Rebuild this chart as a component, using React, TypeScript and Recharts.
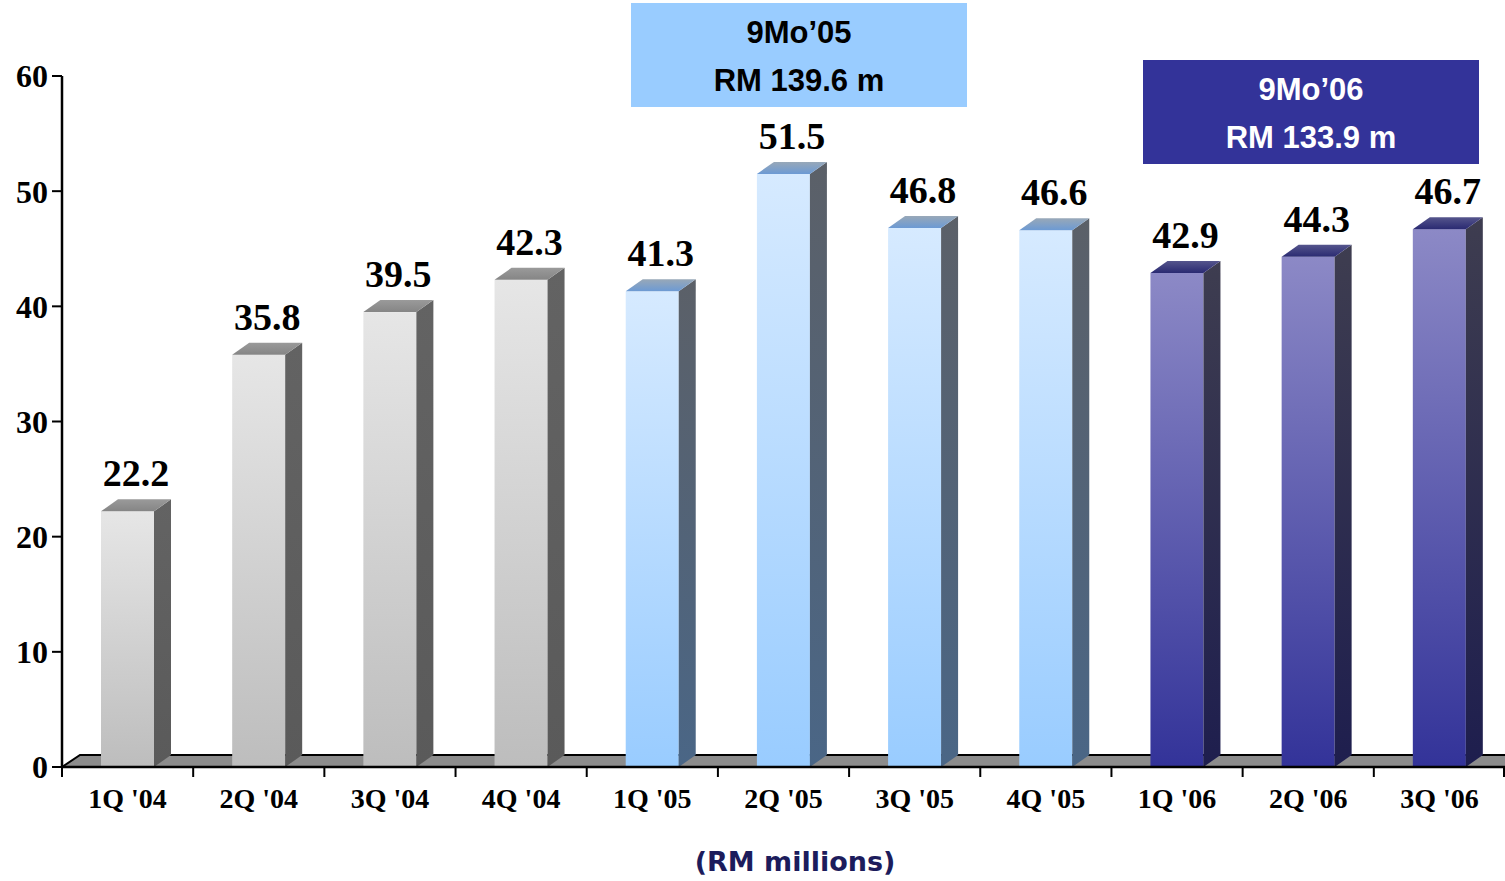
import React from 'react';
import { BarChart, Bar, XAxis, YAxis, LabelList, ReferenceLine } from 'recharts';

// Quarterly figures, RM millions
const quarters = ["1Q '04", "2Q '04", "3Q '04", "4Q '04", "1Q '05", "2Q '05", "3Q '05", "4Q '05", "1Q '06", "2Q '06", "3Q '06"];
const revenue = [22.2, 35.8, 39.5, 42.3, 41.3, 51.5, 46.8, 46.6, 42.9, 44.3, 46.7];
const periods = ['04', '04', '04', '04', '05', '05', '05', '05', '06', '06', '06'];
const yTicks = [0, 10, 20, 30, 40, 50, 60];

// Nine-month totals shown in the two summary boxes
const summary05 = ['9Mo’05', 'RM 139.6 m'];
const summary06 = ['9Mo’06', 'RM 133.9 m'];

const data = quarters.map((q, i) => ({ quarter: q, value: revenue[i], period: periods[i] }));

const W = 1505;
const H = 881;
const DX = 17; // depth offset of the 3D faces
const DY = 12;
const SERIF = '"Liberation Serif", "Times New Roman", Times, serif';
const SANS = '"Liberation Sans", Arial, Helvetica, sans-serif';

const Bar3D = (props: any) => {
  const { x, y, width, height, payload } = props;
  if (width == null || height == null) return null;
  const p = payload?.period ?? '04';
  const r = x + width;
  const b = y + height;
  return (
    <g>
      <rect x={x} y={y} width={width} height={height} fill={`url(#front-${p})`} />
      <polygon
        points={`${r},${y} ${r + DX},${y - DY} ${r + DX},${b - DY} ${r},${b}`}
        fill={`url(#side-${p})`}
      />
      <polygon
        points={`${x},${y} ${x + DX},${y - DY} ${r + DX},${y - DY} ${r},${y}`}
        fill={`url(#top-${p})`}
      />
    </g>
  );
};

const ValueLabel = (props: any) => {
  const { x, y, width, value } = props;
  return (
    <text
      x={x + (width + DX) / 2}
      y={y - 25}
      textAnchor="middle"
      fontFamily={SERIF}
      fontWeight="bold"
      fontSize={38}
      fill="#000"
    >
      {Number(value).toFixed(1)}
    </text>
  );
};

const QuarterTick = (props: any) => {
  const { x, y, payload, index, visibleTicksCount } = props;
  const half = payload?.offset ?? (W - 62) / quarters.length / 2;
  const last = index === (visibleTicksCount ?? quarters.length) - 1;
  return (
    <g>
      <line x1={x - half} y1={y} x2={x - half} y2={y + 10} stroke="#000" strokeWidth={2} />
      {last && <line x1={x + half - 1} y1={y} x2={x + half - 1} y2={y + 10} stroke="#000" strokeWidth={2} />}
      <text
        x={x}
        y={y + 41}
        textAnchor="middle"
        fontFamily={SERIF}
        fontWeight="bold"
        fontSize={28}
        fill="#000"
      >
        {payload.value}
      </text>
    </g>
  );
};

const Floor = (props: any) => {
  const { x1, y1, x2 } = props;
  const left = Math.min(x1, x2);
  const right = Math.max(x1, x2);
  return (
    <g>
      <polygon
        points={`${left},${y1} ${left + 18},${y1 - DY} ${right},${y1 - DY} ${right},${y1}`}
        fill="#8c8c8c"
      />
      <polyline
        points={`${left},${y1} ${left + 18},${y1 - DY} ${right},${y1 - DY}`}
        fill="none"
        stroke="#000"
        strokeWidth={2}
      />
    </g>
  );
};

const SummaryBox = ({ lines, left, top, bg, color }: any) => (
  <div
    style={{
      position: 'absolute',
      left,
      top,
      width: 336,
      height: 104,
      background: bg,
      color,
      fontFamily: SANS,
      fontWeight: 'bold',
      fontSize: 31,
      lineHeight: '48px',
      textAlign: 'center',
      paddingTop: 6,
      boxSizing: 'border-box',
    }}
  >
    {lines.map((l: string) => (
      <div key={l}>{l}</div>
    ))}
  </div>
);

export default function App() {
  return (
    <div style={{ position: 'absolute', left: 0, top: 0, width: W, height: H, background: '#fff' }}>
      <BarChart width={W} height={H} data={data} margin={{ top: 76, right: 0, bottom: 0, left: 0 }}>
        <defs>
          <linearGradient id="front-04" x1="0" y1="0" x2="0" y2="1">
            <stop offset="0%" stopColor="#e6e6e6" />
            <stop offset="100%" stopColor="#bdbdbd" />
          </linearGradient>
          <linearGradient id="side-04" x1="0" y1="0" x2="0" y2="1">
            <stop offset="0%" stopColor="#636363" />
            <stop offset="100%" stopColor="#5a5a5a" />
          </linearGradient>
          <linearGradient id="top-04" x1="0" y1="0" x2="0" y2="1">
            <stop offset="0%" stopColor="#9a9a9a" />
            <stop offset="100%" stopColor="#858585" />
          </linearGradient>
          <linearGradient id="front-05" x1="0" y1="0" x2="0" y2="1">
            <stop offset="0%" stopColor="#d6eaff" />
            <stop offset="100%" stopColor="#99ccff" />
          </linearGradient>
          <linearGradient id="side-05" x1="0" y1="0" x2="0" y2="1">
            <stop offset="0%" stopColor="#5b6068" />
            <stop offset="100%" stopColor="#4a6686" />
          </linearGradient>
          <linearGradient id="top-05" x1="0" y1="0" x2="0" y2="1">
            <stop offset="0%" stopColor="#98a8b8" />
            <stop offset="100%" stopColor="#6c9ad4" />
          </linearGradient>
          <linearGradient id="front-06" x1="0" y1="0" x2="0" y2="1">
            <stop offset="0%" stopColor="#8c89c6" />
            <stop offset="100%" stopColor="#333399" />
          </linearGradient>
          <linearGradient id="side-06" x1="0" y1="0" x2="0" y2="1">
            <stop offset="0%" stopColor="#3e3d50" />
            <stop offset="100%" stopColor="#1e1e4e" />
          </linearGradient>
          <linearGradient id="top-06" x1="0" y1="0" x2="0" y2="1">
            <stop offset="0%" stopColor="#55558c" />
            <stop offset="100%" stopColor="#2a2a72" />
          </linearGradient>
        </defs>
        <ReferenceLine y={0} shape={Floor} zIndex={-10} ifOverflow="visible" />
        <XAxis
          dataKey="quarter"
          height={114}
          tickLine={false}
          tickSize={0}
          tickMargin={0}
          axisLine={{ stroke: '#000', strokeWidth: 2.5 }}
          tick={QuarterTick}
          interval={0}
        />
        <YAxis
          width={62}
          domain={[0, 60]}
          ticks={yTicks}
          interval={0}
          tickSize={10}
          tickMargin={4}
          tickLine={{ stroke: '#000', strokeWidth: 2 }}
          axisLine={{ stroke: '#000', strokeWidth: 2.5 }}
          tick={{ fontFamily: SERIF, fontWeight: 'bold', fontSize: 32, fill: '#000' }}
        />
        <Bar dataKey="value" barSize={53} shape={Bar3D} isAnimationActive={false}>
          <LabelList dataKey="value" content={ValueLabel} />
        </Bar>
      </BarChart>
      <SummaryBox lines={summary05} left={631} top={3} bg="#99ccff" color="#000" />
      <SummaryBox lines={summary06} left={1143} top={60} bg="#333399" color="#fff" />
      <div
        style={{
          position: 'absolute',
          left: 0,
          width: 1590,
          top: 846,
          textAlign: 'center',
          fontFamily: '"DejaVu Sans", sans-serif',
          fontWeight: 'bold',
          fontSize: 27,
          color: '#1c1c5c',
        }}
      >
        (RM millions)
      </div>
    </div>
  );
}
